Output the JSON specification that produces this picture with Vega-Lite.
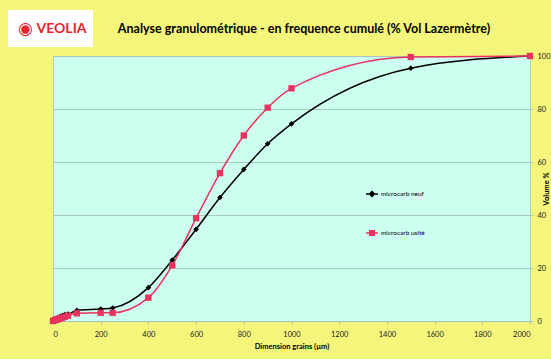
{
  "$schema": "https://vega.github.io/schema/vega-lite/v6.json",
  "background": "#f4f67c",
  "padding": {"left": 8, "top": 10, "right": 2, "bottom": 8},
  "spacing": 4,
  "config": {
    "font": "Lato",
    "view": {"stroke": null},
    "concat": {"spacing": 0}
  },
  "vconcat": [
    {
      "spacing": 0,
      "hconcat": [
        {
          "width": 85,
          "height": 37,
          "view": {"fill": "#ffffff", "stroke": null},
          "data": {"values": [{"brand": "VEOLIA", "icon": "◉"}]},
          "layer": [
            {"mark": {"type": "text", "font": "Lato", "fontWeight": "bold", "fontSize": 14, "color": "#e3262d", "dx": 11}, "encoding": {"text": {"field": "brand"}}},
            {"mark": {"type": "text", "font": "DejaVu Sans", "fontSize": 17, "color": "#e3262d", "dx": -25}, "encoding": {"text": {"field": "icon"}}}
          ]
        },
        {
          "width": 422,
          "height": 37,
          "data": {"values": [{"t": "Analyse granulométrique - en frequence cumulé (% Vol Lazermètre)"}]},
          "mark": {"type": "text", "font": "Lato", "fontWeight": "bold", "fontSize": 12.5, "color": "#000000"},
          "encoding": {"text": {"field": "t"}}
        }
      ]
    },
    {
      "spacing": 0,
      "hconcat": [
        {
          "width": 41,
          "height": 10,
          "data": {"values": [{"t": ""}]},
          "mark": {"type": "text"},
          "encoding": {"text": {"field": "t"}}
        },
        {
          "width": 477,
          "height": 265,
          "view": {"fill": "#ccfff0", "stroke": "#b2cccc"},
          "data": {"values": [
            {"s": "microcarb neuf", "d": 0, "v": 0.3},
            {"s": "microcarb neuf", "d": 10, "v": 0.9},
            {"s": "microcarb neuf", "d": 20, "v": 1.3},
            {"s": "microcarb neuf", "d": 30, "v": 1.8},
            {"s": "microcarb neuf", "d": 40, "v": 2.1},
            {"s": "microcarb neuf", "d": 50, "v": 2.4},
            {"s": "microcarb neuf", "d": 63, "v": 2.6},
            {"s": "microcarb neuf", "d": 100, "v": 4.0},
            {"s": "microcarb neuf", "d": 200, "v": 4.5},
            {"s": "microcarb neuf", "d": 250, "v": 4.9},
            {"s": "microcarb neuf", "d": 400, "v": 12.6},
            {"s": "microcarb neuf", "d": 500, "v": 23},
            {"s": "microcarb neuf", "d": 600, "v": 34.6},
            {"s": "microcarb neuf", "d": 700, "v": 46.6},
            {"s": "microcarb neuf", "d": 800, "v": 57.2},
            {"s": "microcarb neuf", "d": 900, "v": 66.9},
            {"s": "microcarb neuf", "d": 1000, "v": 74.4},
            {"s": "microcarb neuf", "d": 1500, "v": 95.4},
            {"s": "microcarb neuf", "d": 2000, "v": 100},
            {"s": "microcarb usité", "d": 0, "v": 0},
            {"s": "microcarb usité", "d": 5, "v": 0.2},
            {"s": "microcarb usité", "d": 10, "v": 0.4},
            {"s": "microcarb usité", "d": 15, "v": 0.55},
            {"s": "microcarb usité", "d": 20, "v": 0.7},
            {"s": "microcarb usité", "d": 25, "v": 0.85},
            {"s": "microcarb usité", "d": 32, "v": 1.05},
            {"s": "microcarb usité", "d": 40, "v": 1.3},
            {"s": "microcarb usité", "d": 50, "v": 1.6},
            {"s": "microcarb usité", "d": 63, "v": 2.0},
            {"s": "microcarb usité", "d": 100, "v": 2.9},
            {"s": "microcarb usité", "d": 200, "v": 3.1},
            {"s": "microcarb usité", "d": 250, "v": 3.1},
            {"s": "microcarb usité", "d": 400, "v": 8.8},
            {"s": "microcarb usité", "d": 500, "v": 21},
            {"s": "microcarb usité", "d": 600, "v": 38.8},
            {"s": "microcarb usité", "d": 700, "v": 55.8},
            {"s": "microcarb usité", "d": 800, "v": 70},
            {"s": "microcarb usité", "d": 900, "v": 80.5},
            {"s": "microcarb usité", "d": 1000, "v": 87.8},
            {"s": "microcarb usité", "d": 1500, "v": 99.6},
            {"s": "microcarb usité", "d": 2000, "v": 100}
          ]},
          "encoding": {
            "x": {
              "field": "d", "type": "quantitative",
              "scale": {"domain": [0, 2000], "nice": false, "zero": false},
              "axis": {
                "values": [0, 200, 400, 600, 800, 1000, 1200, 1400, 1600, 1800, 2000],
                "format": "d",
                "title": "Dimension grains (µm)",
                "grid": false,
                "domainColor": "#a8c0c0",
                "tickColor": "#a8c0c0",
                "tickSize": 3,
                "labelFontSize": 7.5,
                "labelColor": "#222222",
                "labelPadding": 6,
                "titleFontSize": 7.5,
                "titleFontWeight": "bold",
                "titleColor": "#000000",
                "titlePadding": 5
              }
            },
            "y": {
              "field": "v", "type": "quantitative",
              "scale": {"domain": [0, 100], "nice": false},
              "axis": {
                "orient": "right",
                "values": [0, 20, 40, 60, 80, 100],
                "title": "Volume %",
                "titleAngle": 270,
                "grid": true,
                "gridColor": "#a8c8c0",
                "domainColor": "#b2cccc",
                "tickColor": "#a8c0c0",
                "tickSize": 3,
                "labelFontSize": 7.5,
                "labelColor": "#222222",
                "labelPadding": 4,
                "titleFontSize": 7.5,
                "titleFontWeight": "bold",
                "titleColor": "#000000",
                "titlePadding": 0
              }
            },
            "color": {
              "field": "s", "type": "nominal",
              "scale": {"domain": ["microcarb neuf", "microcarb usité"], "range": ["#000000", "#e8335f"]},
              "legend": {
                "title": null,
                "orient": "none",
                "legendX": 357,
                "legendY": 177,
                "padding": 0,
                "rowPadding": 26,
                "symbolSize": 144,
                "symbolStrokeWidth": 1.5,
                "labelFontSize": 6.5,
                "labelColor": "#000000",
                "labelOffset": 2,
                "encode": {
                  "symbols": {
                    "update": {
                      "shape": {"signal": "datum.value === 'microcarb neuf' ? 'M-1,0H1M0,-0.4L0.4,0L0,0.4L-0.4,0Z' : 'M-1,0H1M-0.38,-0.38H0.38V0.38H-0.38Z'"},
                      "fill": {"signal": "datum.value === 'microcarb neuf' ? '#000000' : '#e8335f'"},
                      "stroke": {"signal": "datum.value === 'microcarb neuf' ? '#000000' : '#e8335f'"},
                      "strokeWidth": {"value": 1.5},
                      "opacity": {"value": 1},
                      "fillOpacity": {"value": 1}
                    }
                  }
                }
              }
            }
          },
          "layer": [
            {"mark": {"type": "line", "interpolate": "monotone", "strokeWidth": 1.5}},
            {
              "transform": [{"filter": "datum.s === 'microcarb neuf'"}],
              "mark": {"type": "point", "filled": true, "opacity": 1, "shape": "diamond", "size": 32}
            },
            {
              "transform": [{"filter": "datum.s === 'microcarb usité'"}],
              "mark": {"type": "point", "filled": true, "opacity": 1, "shape": "square", "size": 40}
            }
          ]
        }
      ]
    }
  ]
}
